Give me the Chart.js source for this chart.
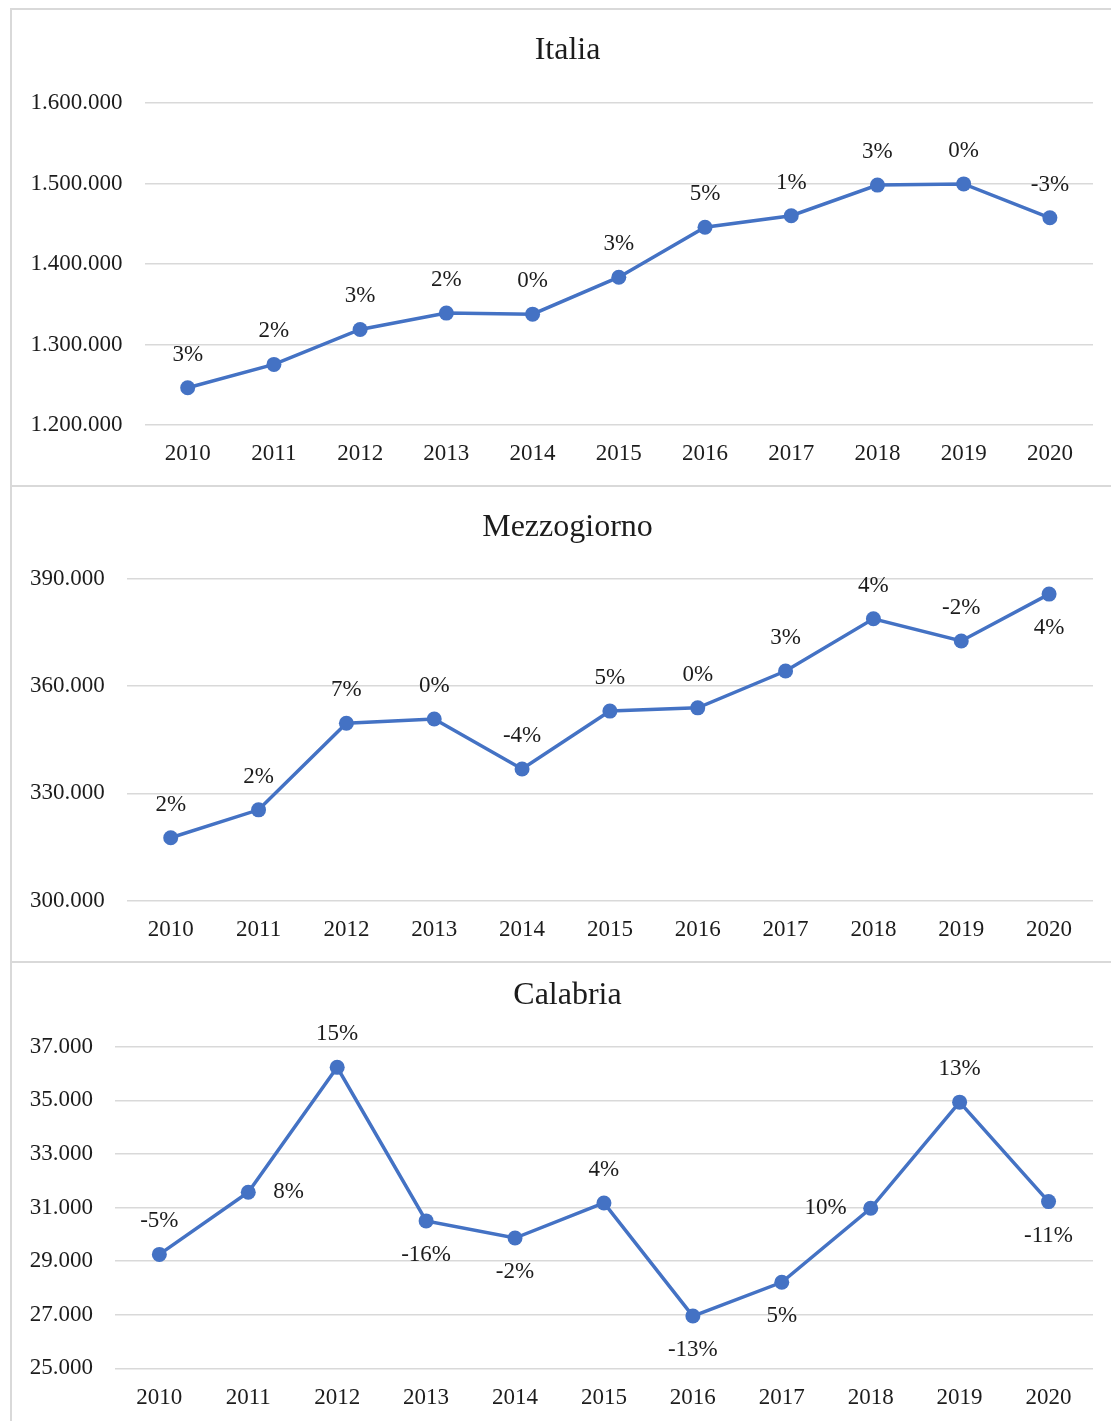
<!DOCTYPE html>
<html>
<head>
<meta charset="utf-8">
<script src="https://cdn.jsdelivr.net/npm/chart.js@4.4.1/dist/chart.umd.min.js"></script>
<style>
  html, body { margin: 0; padding: 0; background: #ffffff; }
  body { width: 1111px; height: 1421px; position: relative; overflow: hidden; }
  .line { position: absolute; background: #d9d9d9; }
  canvas { position: absolute; left: 0; }
</style>
</head>
<body>
<div class="line" style="left:10px;top:8px;width:2px;height:1413px;"></div>
<div class="line" style="left:10px;top:8px;width:1101px;height:2px;"></div>
<div class="line" style="left:10px;top:485px;width:1101px;height:2px;"></div>
<div class="line" style="left:10px;top:961px;width:1101px;height:2px;"></div>

<canvas id="c1" width="1111" height="486" style="top:0px;width:1111px;height:486px;"></canvas>
<canvas id="c2" width="1111" height="476" style="top:486px;width:1111px;height:476px;"></canvas>
<canvas id="c3" width="1111" height="459" style="top:962px;width:1111px;height:459px;"></canvas>

<script>
// ---- Data ----
const years = ['2010', '2011', '2012', '2013', '2014', '2015', '2016', '2017', '2018', '2019', '2020'];

const italiaValues = [1246300, 1275300, 1318700, 1339000, 1337700, 1383600, 1445700, 1460000, 1498000, 1499500, 1457400];
const italiaChanges = ['3%', '2%', '3%', '2%', '0%', '3%', '5%', '1%', '3%', '0%', '-3%'];

const mezzogiornoValues = [317600, 325400, 349600, 350800, 336800, 353000, 353900, 364200, 378800, 372600, 385700];
const mezzogiornoChanges = ['2%', '2%', '7%', '0%', '-4%', '5%', '0%', '3%', '4%', '-2%', '4%'];

const calabriaValues = [29250, 31570, 36230, 30500, 29860, 31170, 26950, 28210, 30970, 34930, 31220];
const calabriaChanges = ['-5%', '8%', '15%', '-16%', '-2%', '4%', '-13%', '5%', '10%', '13%', '-11%'];

// label placement relative to each point
const italiaLabelPos = ['above', 'above', 'above', 'above', 'above', 'above', 'above', 'above', 'above', 'above', 'above'];
const mezzogiornoLabelPos = ['above', 'above', 'above', 'above', 'above', 'above', 'above', 'above', 'above', 'above', 'below'];
const calabriaLabelPos = ['above', 'right', 'above', 'below', 'below', 'above', 'below', 'below', 'left', 'above', 'below'];

// ---- Styles ----
const FONT = '"Liberation Serif", "Times New Roman", serif';
const TEXT = '#1c1c1c';
const BLUE = '#4472C4';
const GRID = '#d9d9d9';

function fmtIt(v) {
  return String(Math.round(v)).replace(/\B(?=(\d{3})+(?!\d))/g, '.');
}

const labelPlugin = {
  id: 'pctLabels',
  afterDatasetsDraw(chart, args, opts) {
    const ctx = chart.ctx;
    const meta = chart.getDatasetMeta(0);
    ctx.save();
    ctx.font = '23px ' + FONT;
    ctx.fillStyle = TEXT;
    ctx.textBaseline = 'middle';
    meta.data.forEach((pt, i) => {
      const txt = opts.labels[i];
      const pos = opts.positions[i];
      let x = pt.x, y = pt.y;
      if (pos === 'above') { ctx.textAlign = 'center'; y -= 33; }
      else if (pos === 'below') { ctx.textAlign = 'center'; y += 34; }
      else if (pos === 'right') { ctx.textAlign = 'left'; x += 25; }
      else if (pos === 'left') { ctx.textAlign = 'right'; x -= 24; }
      ctx.fillText(txt, x, y);
    });
    ctx.restore();
  }
};

const titlePlugin = {
  id: 'panelTitle',
  afterDraw(chart, args, opts) {
    const ctx = chart.ctx;
    ctx.save();
    ctx.font = '32px ' + FONT;
    ctx.fillStyle = TEXT;
    ctx.textAlign = 'center';
    ctx.textBaseline = 'middle';
    ctx.fillText(opts.text, 567.5, opts.y);
    ctx.restore();
  }
};

function makeChart(id, title, titleY, values, changes, positions, yMin, yMax, yStep, axisW, xH, padTop) {
  return new Chart(document.getElementById(id), {
    type: 'line',
    data: {
      labels: years,
      datasets: [{
        label: title,
        data: values,
        borderColor: BLUE,
        backgroundColor: BLUE,
        borderWidth: 3.5,
        pointRadius: 7.5,
        pointHoverRadius: 7.5,
        pointBackgroundColor: BLUE,
        pointBorderWidth: 0,
        tension: 0,
        fill: false
      }]
    },
    options: {
      responsive: false,
      animation: false,
      devicePixelRatio: 1,
      layout: { padding: { top: padTop, right: 18, bottom: 0, left: 0 } },
      plugins: {
        legend: { display: false },
        tooltip: { enabled: false },
        title: { display: false },
        pctLabels: { labels: changes, positions: positions },
        panelTitle: { text: title, y: titleY }
      },
      scales: {
        x: {
          offset: true,
          grid: { display: false, drawTicks: false },
          border: { display: false },
          ticks: { color: TEXT, font: { family: FONT, size: 23 }, padding: 15.5, maxRotation: 0, autoSkip: false },
          afterFit: (s) => { s.height = xH; }
        },
        y: {
          min: yMin,
          max: yMax,
          grid: { color: GRID, lineWidth: 1.6, drawTicks: false },
          border: { display: false },
          ticks: {
            stepSize: yStep,
            color: TEXT,
            font: { family: FONT, size: 23 },
            padding: 22,
            callback: (v) => fmtIt(v)
          },
          afterFit: (s) => { s.width = axisW; }
        }
      }
    },
    plugins: [labelPlugin, titlePlugin]
  });
}

makeChart('c1', 'Italia', 50.5, italiaValues, italiaChanges, italiaLabelPos,
  1200000, 1600000, 100000, 144.6, 61, 103);
makeChart('c2', 'Mezzogiorno', 41.5, mezzogiornoValues, mezzogiornoChanges, mezzogiornoLabelPos,
  300000, 390000, 30000, 126.8, 61.3, 92.7);
makeChart('c3', 'Calabria', 33.5, calabriaValues, calabriaChanges, calabriaLabelPos,
  25000, 37000, 2000, 114.9, 52.7, 84.7);
</script>
</body>
</html>
